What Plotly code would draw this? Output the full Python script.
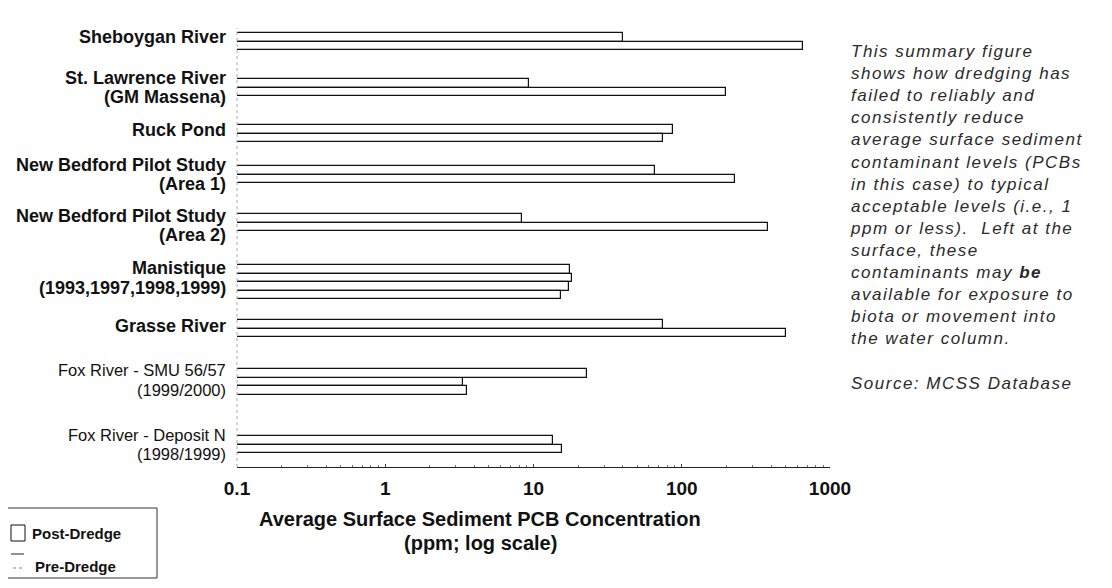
import plotly.graph_objects as go

# ---------------- data ----------------
group_line1 = ["Sheboygan River", "St. Lawrence River", "Ruck Pond",
               "New Bedford Pilot Study", "New Bedford Pilot Study",
               "Manistique", "Grasse River", "Fox River - SMU 56/57",
               "Fox River - Deposit N"]
group_line2 = ["", "(GM Massena)", "", "(Area 1)", "(Area 2)",
               "(1993,1997,1998,1999)", "", "(1999/2000)", "(1998/1999)"]
group_bold = [True, True, True, True, True, True, True, False, False]

bar_group = [0, 0, 1, 1, 2, 2, 3, 3, 4, 4, 5, 5, 5, 5, 6, 6, 7, 7, 7, 8, 8]
bar_kind = ["Post-Dredge", "Pre-Dredge", "Post-Dredge", "Pre-Dredge",
            "Post-Dredge", "Pre-Dredge", "Post-Dredge", "Pre-Dredge",
            "Post-Dredge", "Pre-Dredge",
            "Post-Dredge", "Post-Dredge", "Post-Dredge", "Post-Dredge",
            "Post-Dredge", "Pre-Dredge",
            "Pre-Dredge", "Post-Dredge", "Post-Dredge",
            "Post-Dredge", "Pre-Dredge"]
bar_value = [40, 660, 9.3, 200, 87, 75, 66, 230, 8.4, 380,
             17.6, 18.2, 17.3, 15.4, 75, 505, 23, 3.35, 3.55, 13.5, 15.5]

tick_vals = [0.1, 1, 10, 100, 1000]
tick_text = ["0.1", "1", "10", "100", "1000"]

note_lines = ["This summary figure", "shows how dredging has",
              "failed to reliably and", "consistently reduce",
              "average surface sediment", "contaminant levels (PCBs",
              "in this case) to typical", "acceptable levels (i.e., 1",
              "ppm or less).  Left at the", "surface, these",
              "contaminants may <b>be</b>", "available for exposure to",
              "biota or movement into", "the water column."]
source_text = "Source: MCSS Database"

# ---------------- layout constants ----------------
OFF = 8                                  # page body margin of the browser
W, H = 1112 - OFF, 588 - OFF
X0, X1, Y0, Y1 = 237, 830, 24, 467       # plot area in page pixels
PW, PH = X1 - X0, Y1 - Y0
FONT = "Liberation Sans, Arial, Helvetica, sans-serif"

group_top = [33, 79, 125, 166, 214, 265, 320, 369, 436]   # row layout (y units)
label_dy = [-5, 0, -4, 0, 3, -4, -3, -2, 0]
pitch = 8.6


def px(xp):
    return (xp - X0) / PW


def py(yp):
    return (Y1 - yp) / PH


counts = [bar_group.count(g) for g in range(len(group_line1))]
bar_y = []
seen = [0] * len(group_line1)
for g in bar_group:
    bar_y.append(group_top[g] + (seen[g] + 0.5) * pitch)
    seen[g] += 1

fig = go.Figure()
for kind in ["Post-Dredge", "Pre-Dredge"]:
    idx = [i for i, k in enumerate(bar_kind) if k == kind]
    fig.add_trace(go.Bar(
        orientation="h",
        x=[bar_value[i] for i in idx],
        y=[bar_y[i] for i in idx],
        width=pitch,
        name=kind,
        marker=dict(color="white", line=dict(color="#111111", width=1.2)),
        showlegend=False,
    ))

fig.update_layout(
    width=W, height=H,
    margin=dict(l=X0 - OFF, r=W - (X1 - OFF), t=Y0 - OFF, b=H - (Y1 - OFF), pad=0),
    paper_bgcolor="white", plot_bgcolor="white",
    bargap=0,
    font=dict(family=FONT, color="#111"),
    xaxis=dict(
        type="log", range=[-1, 3],
        tickmode="array", tickvals=tick_vals,
        ticktext=["<b>%s</b>" % t for t in tick_text],
        tickfont=dict(size=19, color="#111"),
        showgrid=False, zeroline=False,
        showline=True, linecolor="#222", linewidth=1,
        ticks="inside", ticklen=3, tickcolor="#444",
        ticklabelstandoff=4,
        minor=dict(tickvals=[m * 10 ** e for e in range(-1, 3) for m in range(2, 10)],
                   ticks="inside", ticklen=2, tickcolor="#777"),
    ),
    yaxis=dict(
        range=[Y1, Y0], showticklabels=False, showgrid=False,
        zeroline=False, showline=False, ticks="",
    ),
)

# dotted value-axis line at the left
fig.add_shape(type="line", xref="paper", yref="paper", x0=0, x1=0,
              y0=0, y1=py(28), line=dict(color="#aaa", width=1, dash="dot"))

# category labels
LSP = 19.5
for g in range(len(group_line1)):
    lines = [group_line1[g]] + ([group_line2[g]] if group_line2[g] else [])
    c = group_top[g] + counts[g] * pitch / 2 + label_dy[g]
    for k, t in enumerate(lines):
        yk = c + (k - (len(lines) - 1) / 2) * LSP
        fig.add_annotation(
            xref="paper", yref="y", x=0, y=yk, xshift=-9,
            xanchor="right", yanchor="middle", showarrow=False,
            text=("<b>%s</b>" % t) if group_bold[g] else t,
            font=dict(size=18 if group_bold[g] else 16.5, color="#111", family=FONT),
        )

# explanatory note on the right (one text block)
NOTE_X = 848
NOTE_SIZE = 17
all_lines = note_lines + ["", source_text]
note_html = "<br>".join(
    ("<span style='letter-spacing:1.5px'><i>%s</i></span>" % t) if t else " "
    for t in all_lines)
first_c = 52
line_h = NOTE_SIZE * 1.3
fig.add_annotation(
    xref="paper", yref="y", x=1, xshift=NOTE_X - X1,
    y=first_c + (len(all_lines) - 1) * line_h / 2,
    xanchor="left", yanchor="middle", align="left", showarrow=False,
    text=note_html, font=dict(size=NOTE_SIZE, color="#2a2a2a", family=FONT),
)

# axis title
for k, t in enumerate(["Average Surface Sediment PCB Concentration",
                       "(ppm; log scale)"]):
    fig.add_annotation(
        xref="paper", yref="paper", x=px(480), y=py(519 + k * 24),
        xanchor="center", yanchor="middle", showarrow=False,
        text="<b>%s</b>" % t, font=dict(size=20, color="#111", family=FONT),
    )

# legend box
fig.add_shape(type="rect", xref="paper", yref="paper",
              x0=px(5), x1=px(157), y0=py(508), y1=py(578),
              line=dict(color="#333", width=1), fillcolor="white")
fig.add_shape(type="rect", xref="paper", yref="paper",
              x0=px(11), x1=px(25), y0=py(525), y1=py(541),
              line=dict(color="#111", width=1), fillcolor="white")
fig.add_shape(type="line", xref="paper", yref="paper",
              x0=px(11), x1=px(24), y0=py(554), y1=py(554),
              line=dict(color="#222", width=1))
fig.add_shape(type="line", xref="paper", yref="paper",
              x0=px(13), x1=px(24), y0=py(568), y1=py(568),
              line=dict(color="#888", width=1, dash="dot"))
fig.add_annotation(xref="paper", yref="paper", x=px(30), y=py(533),
                   xanchor="left", yanchor="middle", showarrow=False,
                   text="<b>Post-Dredge</b>", font=dict(size=15, color="#111", family=FONT))
fig.add_annotation(xref="paper", yref="paper", x=px(33), y=py(566),
                   xanchor="left", yanchor="middle", showarrow=False,
                   text="<b>Pre-Dredge</b>", font=dict(size=15, color="#111", family=FONT))

fig.write_html("out.html")
